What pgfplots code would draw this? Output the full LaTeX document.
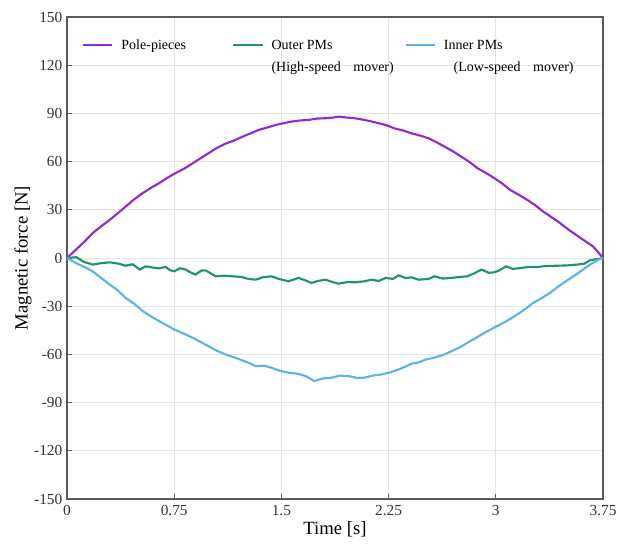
\documentclass[border=0pt]{standalone}
\usepackage{fontspec}
\setmainfont{Liberation Serif}
\usepackage{pgfplots}
\pgfplotsset{compat=1.18}
\definecolor{polepc}{RGB}{150,40,210}
\definecolor{outerpm}{RGB}{30,150,100}
\definecolor{innerpm}{RGB}{95,178,228}
\definecolor{axgray}{RGB}{90,90,90}
\begin{document}
\begin{tikzpicture}
\begin{axis}[
  at={(0,0)}, anchor=south west,
  scale only axis, width=402pt, height=361.5pt,
  xmin=0, xmax=3.75, ymin=-150, ymax=150,
  xtick={0,0.75,1.5,2.25,3,3.75}, xticklabels={0,0.75,1.5,2.25,3,3.75},
  ytick={-150,-120,-90,-60,-30,0,30,60,90,120,150},
  yticklabels={-150,-120,-90,-60,-30,0,30,60,90,120,150},
  grid=major, grid style={black!10, line width=0.5pt},
  axis line style={axgray, line width=0.9pt},
  tick align=inside, xtick pos=bottom, ytick pos=left,
  major tick length=4pt, tick style={axgray, line width=0.6pt},
  ticklabel style={font=\fontsize{11.5}{12}\selectfont, text=black!80},
  xticklabel style={yshift=-1pt},
  every axis x label/.style={at={(axis description cs:0.5,-0.0636)}, anchor=center,
    font=\fontsize{14}{16}\selectfont},
  every axis y label/.style={at={(axis description cs:-0.082,0.5)}, rotate=90, anchor=center,
    font=\fontsize{14}{16}\selectfont},
  xlabel={Time [s]}, ylabel={Magnetic force [N]},
  legend columns=3,
  legend style={at={(axis description cs:0.02,0.968)}, anchor=north west, draw=none, fill=none,
    font=\fontsize{10.5}{12.6}\selectfont, cells={anchor=base west},
    /tikz/every odd column/.append style={column sep=4pt},
    /tikz/every even column/.append style={column sep=6pt}},
  legend image code/.code={\draw[#1] (0cm,3.6pt) -- (22pt,3.6pt);},
]
\addplot[polepc, line width=1.6pt] coordinates {
(0,0) (0.06,5) (0.12,10) (0.18,15.5) (0.24,19.8) (0.30,23.8) (0.36,28.2) (0.41,32) (0.47,36.5)
(0.53,40.4) (0.59,43.8) (0.645,46.6) (0.70,49.8) (0.75,52.4) (0.82,55.6) (0.88,59) (0.94,62.4)
(0.99,65.2) (1.05,68.6) (1.11,71.2) (1.17,73.2) (1.23,75.6) (1.29,77.8) (1.34,79.7) (1.40,81.2)
(1.46,82.8) (1.52,84.0) (1.57,84.9) (1.63,85.6) (1.69,85.9) (1.75,86.8) (1.81,87) (1.86,87.4)
(1.90,88) (1.96,87.4) (2.01,87.0) (2.06,86.3) (2.12,85.2) (2.18,83.9) (2.24,82.5) (2.29,80.7)
(2.35,79.4) (2.41,77.6) (2.47,76.2) (2.53,74.5) (2.59,71.8) (2.64,69.4) (2.70,66.4) (2.76,63)
(2.82,59.5) (2.87,56) (2.93,53) (2.99,49.7) (3.05,46) (3.10,42.4) (3.16,39.4) (3.22,36.2)
(3.28,32.6) (3.33,29) (3.39,25.4) (3.45,21.7) (3.50,18.2) (3.56,14.5) (3.62,10.8) (3.68,7.2)
(3.72,3.2) (3.75,0)};
\addlegendentry{\makebox[75pt][l]{Pole-pieces}}
\addplot[outerpm, line width=1.6pt] coordinates {
(0,0) (0.065,0.5) (0.12,-2.5) (0.18,-4.1) (0.24,-3.2) (0.30,-2.7) (0.36,-3.5) (0.41,-4.8)
(0.46,-3.9) (0.51,-7.2) (0.55,-5.2) (0.58,-5.6) (0.64,-6.5) (0.69,-5.6) (0.72,-7.5) (0.75,-8.3)
(0.79,-6.4) (0.83,-7.2) (0.87,-9.2) (0.90,-10.3) (0.94,-7.8) (0.97,-7.7) (1.04,-11.4) (1.10,-11.0)
(1.16,-11.4) (1.22,-11.8) (1.27,-13) (1.32,-13.5) (1.37,-12) (1.43,-11.4) (1.49,-13.2) (1.55,-14.5)
(1.62,-12.4) (1.67,-14) (1.71,-15.5) (1.76,-14.2) (1.81,-13.5) (1.86,-15) (1.90,-16) (1.96,-15)
(2.02,-15.1) (2.08,-14.5) (2.13,-13.5) (2.18,-14.3) (2.23,-12.4) (2.28,-13) (2.32,-10.8) (2.37,-12.5)
(2.41,-12) (2.46,-13.5) (2.53,-13) (2.57,-11.4) (2.63,-12.8) (2.69,-12.4) (2.75,-11.8) (2.80,-11.4)
(2.85,-9.5) (2.90,-7.2) (2.95,-9.2) (2.99,-8.9) (3.03,-7.5) (3.07,-5.2) (3.12,-6.8) (3.18,-6.2)
(3.23,-5.5) (3.29,-5.6) (3.35,-5.0) (3.43,-4.8) (3.50,-4.6) (3.57,-4.1) (3.62,-3.5) (3.66,-1.4)
(3.72,-0.5) (3.75,0)};
\addlegendentry{\begin{tabular}[t]{@{}l@{}}Outer PMs\\[4pt](High-speed\hspace{0.9em}mover)\end{tabular}}
\addplot[innerpm, line width=1.6pt] coordinates {
(0,0) (0.07,-3.5) (0.12,-5.5) (0.18,-8.3) (0.24,-12.5) (0.30,-16.6) (0.35,-19.8) (0.41,-24.8)
(0.47,-28.5) (0.53,-33) (0.59,-36.5) (0.645,-39.3) (0.70,-42.0) (0.75,-44.5) (0.82,-47.2)
(0.88,-49.7) (0.94,-52.5) (0.99,-54.9) (1.05,-57.8) (1.11,-60) (1.19,-62.5) (1.27,-65.2)
(1.32,-67.3) (1.38,-67.0) (1.43,-68.3) (1.49,-70.2) (1.55,-71.4) (1.61,-72.0) (1.67,-73.5)
(1.70,-75) (1.73,-76.6) (1.79,-75.0) (1.85,-74.5) (1.91,-73.2) (1.97,-73.5) (2.03,-74.6)
(2.08,-74.5) (2.14,-73.2) (2.20,-72.5) (2.26,-71.2) (2.32,-69.4) (2.37,-67.5) (2.41,-65.8)
(2.46,-65.0) (2.51,-63.2) (2.57,-62) (2.63,-60.4) (2.69,-58) (2.75,-55.5) (2.80,-52.8)
(2.86,-49.8) (2.92,-46.6) (2.97,-44.2) (3.03,-41.4) (3.09,-38.5) (3.15,-35.2) (3.21,-31.5)
(3.26,-28) (3.32,-25.0) (3.38,-21.7) (3.43,-18.2) (3.49,-14.5) (3.55,-11.0) (3.61,-7.2)
(3.67,-3.5) (3.72,-1.0) (3.75,0)};
\addlegendentry{\begin{tabular}[t]{@{}l@{}}Inner PMs\\[4pt]\hspace{0.7em}(Low-speed\hspace{0.9em}mover)\end{tabular}}
\end{axis}
\pgfresetboundingbox
\path[use as bounding box] (-50.25pt,-33.75pt) rectangle (414pt,374.25pt);
\end{tikzpicture}
\end{document}
